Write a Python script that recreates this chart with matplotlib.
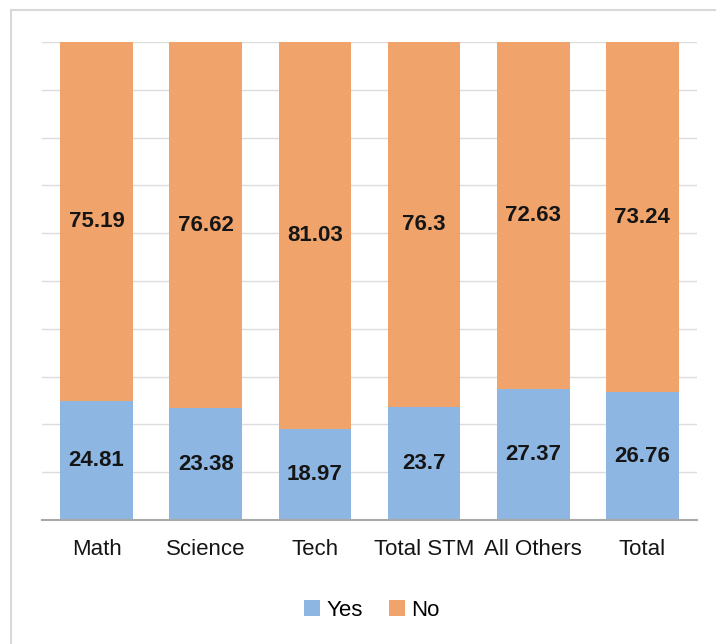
import matplotlib
matplotlib.use("Agg")
import matplotlib.pyplot as plt
from matplotlib.lines import Line2D
import numpy as np

categories = ["Math", "Science", "Tech", "Total STM", "All Others", "Total"]
yes_vals = [24.81, 23.38, 18.97, 23.7, 27.37, 26.76]
no_vals = [75.19, 76.62, 81.03, 76.3, 72.63, 73.24]

yes_color = "#8DB7E2"
no_color = "#F0A46C"
plt.rcParams["font.family"] = ["Liberation Sans", "DejaVu Sans"]

fig = plt.figure(figsize=(7.16, 6.44), dpi=100)
ax = fig.add_axes([42/716, 1 - 520/644, (697-42)/716, (520-42)/644])

x = np.arange(len(categories))
w = 0.665
ax.bar(x, yes_vals, w, color=yes_color, label="Yes", zorder=2)
ax.bar(x, no_vals, w, bottom=yes_vals, color=no_color, label="No", zorder=2)

for i in range(len(categories)):
    ax.text(x[i], yes_vals[i] / 2, f"{yes_vals[i]:g}", ha="center", va="center",
            fontsize=16, fontweight="bold", color="#151515", zorder=3)
    ax.text(x[i], yes_vals[i] + no_vals[i] / 2, f"{no_vals[i]:g}", ha="center", va="center",
            fontsize=16, fontweight="bold", color="#151515", zorder=3)

ax.set_xlim(-0.5, len(categories) - 0.5)
ax.set_ylim(0, 100)
ax.set_yticks(np.arange(0, 101, 10))
ax.yaxis.grid(True, color="#dcdcdc", lw=1, zorder=0)
ax.set_yticklabels([])
ax.tick_params(axis="y", length=0)
ax.tick_params(axis="x", length=0, pad=14)
ax.set_xticks(x)
ax.set_xticklabels(categories, fontsize=16, color="#151515")
for s in ["top", "right", "left"]:
    ax.spines[s].set_visible(False)
ax.spines["bottom"].set_color("#a8a8a8")
ax.spines["bottom"].set_linewidth(1.5)
ax.spines["bottom"].set_zorder(3)

fig.legend(loc="center", bbox_to_anchor=(372/716, 1 - 610/644), ncol=2, frameon=False,
           fontsize=16, handlelength=0.7, handleheight=0.7, handletextpad=0.3,
           columnspacing=1.2)

fig.lines.append(Line2D([11/716, 1], [1 - 10/644, 1 - 10/644], transform=fig.transFigure,
                        color="#d8d8d8", lw=1.5))
fig.lines.append(Line2D([11/716, 11/716], [0, 1 - 10/644], transform=fig.transFigure,
                        color="#d8d8d8", lw=1.5))

fig.savefig("out.png", dpi=100)
